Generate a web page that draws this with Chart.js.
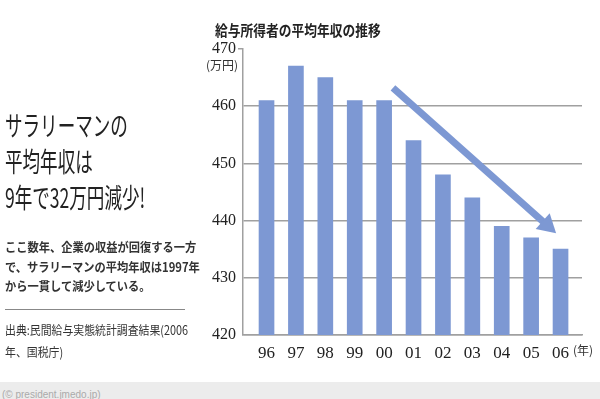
<!DOCTYPE html>
<html lang="ja">
<head>
<meta charset="utf-8">
<script src="https://cdn.jsdelivr.net/npm/chart.js@4.4.1/dist/chart.umd.min.js"></script>
<style>
  html, body { margin: 0; padding: 0; background: #fff; }
  #wrap { position: relative; width: 600px; height: 399px; overflow: hidden; font-family: "Noto Sans CJK JP", sans-serif; color: #222; }
  #chart { position: absolute; left: 0; top: 0; }
  .txt { position: absolute; white-space: nowrap; transform-origin: left top; }
  #title { left: 215px; top: 21px; font-size: 15px; line-height: 18px; font-weight: 700; transform: scaleX(0.85); }
  #unit { left: 206px; top: 58px; font-size: 12px; line-height: 14px; color: #333; }
  #yearUnit { left: 573px; top: 342px; font-size: 12px; line-height: 16px; color: #333; }
  #headline { left: 5px; top: 107px; font-size: 27px; line-height: 36px; transform: scaleX(0.65); }
  #para { left: 5px; top: 237px; font-size: 12.5px; line-height: 19.5px; font-weight: 700; color: #333; transform: scaleX(0.9); }
  #rule { position: absolute; left: 5px; top: 309px; width: 180px; border-top: 1px solid #888; }
  #source { left: 5px; top: 319px; font-size: 12.5px; line-height: 22px; color: #333; transform: scaleX(0.87); }
  #band { position: absolute; left: 0; top: 382px; width: 600px; height: 17px; background: #ececec; }
  #credit { left: 2px; top: 389px; font-size: 10px; line-height: 12px; color: #aaa; font-family: "Liberation Sans", sans-serif; }
</style>
</head>
<body>
<div id="wrap">
  <canvas id="chart" width="600" height="399"></canvas>
  <div class="txt" id="title">給与所得者の平均年収の推移</div>
  <div class="txt" id="unit">(万円)</div>
  <div class="txt" id="yearUnit">(年)</div>
  <div class="txt" id="headline">サラリーマンの<br>平均年収は<br>9年で32万円減少!</div>
  <div class="txt" id="para">ここ数年、企業の収益が回復する一方<br>で、サラリーマンの平均年収は1997年<br>から一貫して減少している。</div>
  <div id="rule"></div>
  <div class="txt" id="source">出典:民間給与実態統計調査結果(2006<br>年、国税庁)</div>
  <div id="band"></div>
  <div class="txt" id="credit">(© president.jmedo.jp)</div>
</div>
<script>
const years = ['96', '97', '98', '99', '00', '01', '02', '03', '04', '05', '06'];
const income = [461, 467, 465, 461, 461, 454, 448, 444, 439, 437, 435];
const yTicks = [420, 430, 440, 450, 460, 470];
// trend arrow, in data units (x = year index, y = 万円)
const arrowFrom = [4.3, 463.2];
const arrowTo = [9.85, 437.8];

const barColor = '#7d98d3';
const gridColor = '#a0a0a0';
const serif = '"Liberation Serif", "DejaVu Serif", serif';

const arrowPlugin = {
    id: 'trendArrow',
    afterDatasetsDraw(chart) {
        const { ctx, scales: { x, y } } = chart;
        const x1 = x.getPixelForValue(arrowFrom[0]), y1 = y.getPixelForValue(arrowFrom[1]);
        const x2 = x.getPixelForValue(arrowTo[0]), y2 = y.getPixelForValue(arrowTo[1]);
        const ang = Math.atan2(y2 - y1, x2 - x1);
        const headLen = 18, headHalf = 10.5;
        const bx = x2 - headLen * Math.cos(ang), by = y2 - headLen * Math.sin(ang);

        ctx.save();
        ctx.strokeStyle = barColor;
        ctx.fillStyle = barColor;
        ctx.lineWidth = 7;
        ctx.lineCap = 'butt';
        ctx.beginPath();
        ctx.moveTo(x1, y1);
        ctx.lineTo(bx + 2 * Math.cos(ang), by + 2 * Math.sin(ang));
        ctx.stroke();

        ctx.beginPath();
        ctx.moveTo(x2, y2);
        ctx.lineTo(bx + headHalf * Math.sin(ang), by - headHalf * Math.cos(ang));
        ctx.lineTo(bx - headHalf * Math.sin(ang), by + headHalf * Math.cos(ang));
        ctx.closePath();
        ctx.fill();
        ctx.restore();
    }
};

new Chart(document.getElementById('chart'), {
    type: 'bar',
    data: {
        datasets: [{
            data: income.map((v, i) => ({ x: i, y: v })),
            backgroundColor: barColor,
            borderWidth: 0,
            barThickness: 15
        }]
    },
    options: {
        responsive: false,
        animation: false,
        devicePixelRatio: 1,
        layout: { padding: { left: 200, right: 18, top: 49, bottom: 0 } },
        plugins: {
            legend: { display: false },
            tooltip: { enabled: false }
        },
        scales: {
            x: {
                type: 'linear',
                offset: false,
                min: -0.8,
                max: 10.73,
                afterBuildTicks: (scale) => { scale.ticks = years.map((_, i) => ({ value: i })); },
                afterFit: (scale) => { scale.height = 64; },
                grid: { display: false, offset: false },
                border: { display: true, color: gridColor, width: 1.5 },
                ticks: {
                    padding: 0,
                    color: '#222',
                    font: { family: serif, size: 17 },
                    maxRotation: 0,
                    autoSkip: false,
                    callback: (value) => years[value]
                }
            },
            y: {
                min: 420,
                max: 470,
                afterBuildTicks: (scale) => { scale.ticks = yTicks.map(v => ({ value: v })); },
                afterFit: (scale) => { scale.width = 43; },
                grid: {
                    color: (c) => (c.tick && c.tick.value === 470 ? 'rgba(0,0,0,0)' : gridColor),
                    lineWidth: 1.5,
                    tickLength: 5,
                    tickColor: (c) => (c.tick && c.tick.value === 470 ? gridColor : 'rgba(0,0,0,0)')
                },
                border: { display: true, color: gridColor, width: 1.5 },
                ticks: {
                    padding: 2,
                    color: '#222',
                    font: { family: serif, size: 16 }
                }
            }
        }
    },
    plugins: [arrowPlugin]
});
</script>
</body>
</html>
